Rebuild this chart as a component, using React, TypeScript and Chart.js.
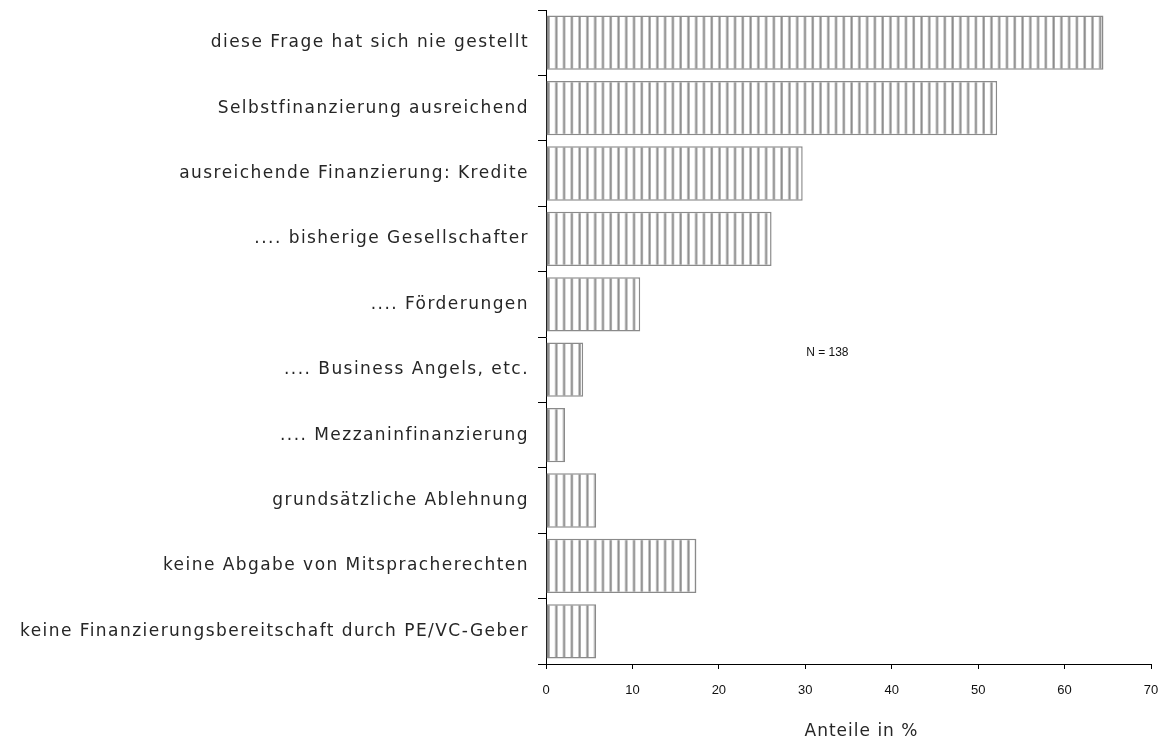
import React, { useEffect, useRef } from "react";
import { Chart, registerables } from "chart.js";

Chart.register(...registerables);

const categories = [
  "diese Frage hat sich nie gestellt",
  "Selbstfinanzierung ausreichend",
  "ausreichende Finanzierung: Kredite",
  ".... bisherige Gesellschafter",
  ".... Förderungen",
  ".... Business Angels, etc.",
  ".... Mezzaninfinanzierung",
  "grundsätzliche Ablehnung",
  "keine Abgabe von Mitspracherechten",
  "keine Finanzierungsbereitschaft durch PE/VC-Geber",
];
const shares = [64.5, 52.2, 29.7, 26.1, 10.9, 4.3, 2.2, 5.8, 17.4, 5.8];
const xTicks = [0, 10, 20, 30, 40, 50, 60, 70];
const xTitle = "Anteile in %";
const sampleNote = "N = 138";

const LABEL_FONT = "17px 'DejaVu Sans', sans-serif";

function makeStripes(): CanvasPattern | string {
  const c = document.createElement("canvas");
  c.width = 8;
  c.height = 8;
  const ctx = c.getContext("2d");
  if (!ctx) return "#aaa";
  ctx.fillStyle = "#ffffff";
  ctx.fillRect(0, 0, 8, 8);
  ctx.fillStyle = "#c4c4c4";
  ctx.fillRect(1, 0, 1, 8);
  ctx.fillStyle = "#8c8c8c";
  ctx.fillRect(2, 0, 1, 8);
  ctx.fillStyle = "#ababab";
  ctx.fillRect(3, 0, 1, 8);
  const p = ctx.createPattern(c, "repeat");
  if (!p) return "#aaa";
  try {
    p.setTransform(new DOMMatrix().translate(546, 0).scale(7.77 / 8, 1));
  } catch (e) {}
  return p;
}

// Category labels, axis title and the sample-size note, drawn with letter spacing
const textPlugin = {
  id: "spacedText",
  afterDraw(chart: any) {
    const { ctx, scales, chartArea } = chart;
    ctx.save();
    ctx.fillStyle = "#262626";
    ctx.font = LABEL_FONT;
    (ctx as any).letterSpacing = "1.45px";
    ctx.textAlign = "right";
    ctx.textBaseline = "middle";
    categories.forEach((label, i) => {
      const y = scales.y.getPixelForValue(i);
      ctx.fillText(label, chartArea.left - 17, y);
    });

    (ctx as any).letterSpacing = "1px";
    ctx.textAlign = "center";
    ctx.font = "17px 'DejaVu Sans', sans-serif";
    ctx.fillText(xTitle, (chartArea.left + chartArea.right) / 2 + 13, chartArea.bottom + 68);

    (ctx as any).letterSpacing = "0px";
    ctx.font = "12px 'Liberation Sans', Arial, sans-serif";
    ctx.fillStyle = "#111";
    ctx.textAlign = "left";
    ctx.fillText(sampleNote, scales.x.getPixelForValue(30.1), scales.y.getPixelForValue(4.74));
    ctx.restore();
  },
};

export default function App() {
  const ref = useRef<HTMLCanvasElement | null>(null);

  useEffect(() => {
    document.body.style.margin = "0";
    if (!ref.current) return;
    const chart = new Chart(ref.current, {
      type: "bar",
      data: {
        labels: categories,
        datasets: [
          {
            data: shares,
            backgroundColor: makeStripes() as any,
            borderColor: "#8a8a8a",
            borderWidth: 1.5,
            borderSkipped: false,
            barPercentage: 0.83,
            categoryPercentage: 1,
          },
        ],
      },
      options: {
        indexAxis: "y",
        animation: false,
        responsive: false,
        maintainAspectRatio: false,
        layout: { padding: { top: 10, right: 12, left: 0, bottom: 0 } },
        plugins: { legend: { display: false }, tooltip: { enabled: false } },
        scales: {
          x: {
            min: 0,
            max: 70,
            afterBuildTicks(scale: any) {
              scale.ticks = xTicks.map((v) => ({ value: v }));
            },
            afterFit(scale: any) {
              scale.height = 76;
              scale.paddingLeft = 0;
              scale.paddingRight = 0;
            },
            grid: {
              drawOnChartArea: false,
              drawTicks: true,
              tickLength: 5,
              color: "#000",
            },
            border: { color: "#000", width: 1 },
            ticks: {
              color: "#111",
              font: { family: "'Liberation Sans', Arial, sans-serif", size: 13 },
              padding: 14,
              maxRotation: 0,
            },
          },
          y: {
            afterFit(scale: any) {
              scale.width = 546;
              scale.paddingTop = 0;
              scale.paddingBottom = 0;
            },
            grid: {
              offset: true,
              drawOnChartArea: false,
              drawTicks: true,
              tickLength: 8,
              color: "#000",
            },
            border: { color: "#000", width: 1 },
            ticks: { display: false, autoSkip: false },
          },
        },
      },
      plugins: [textPlugin],
    });
    return () => chart.destroy();
  }, []);

  return (
    <div style={{ width: 1163, height: 740 }}>
      <canvas ref={ref} width={1163} height={740} style={{ display: "block" }} />
    </div>
  );
}
